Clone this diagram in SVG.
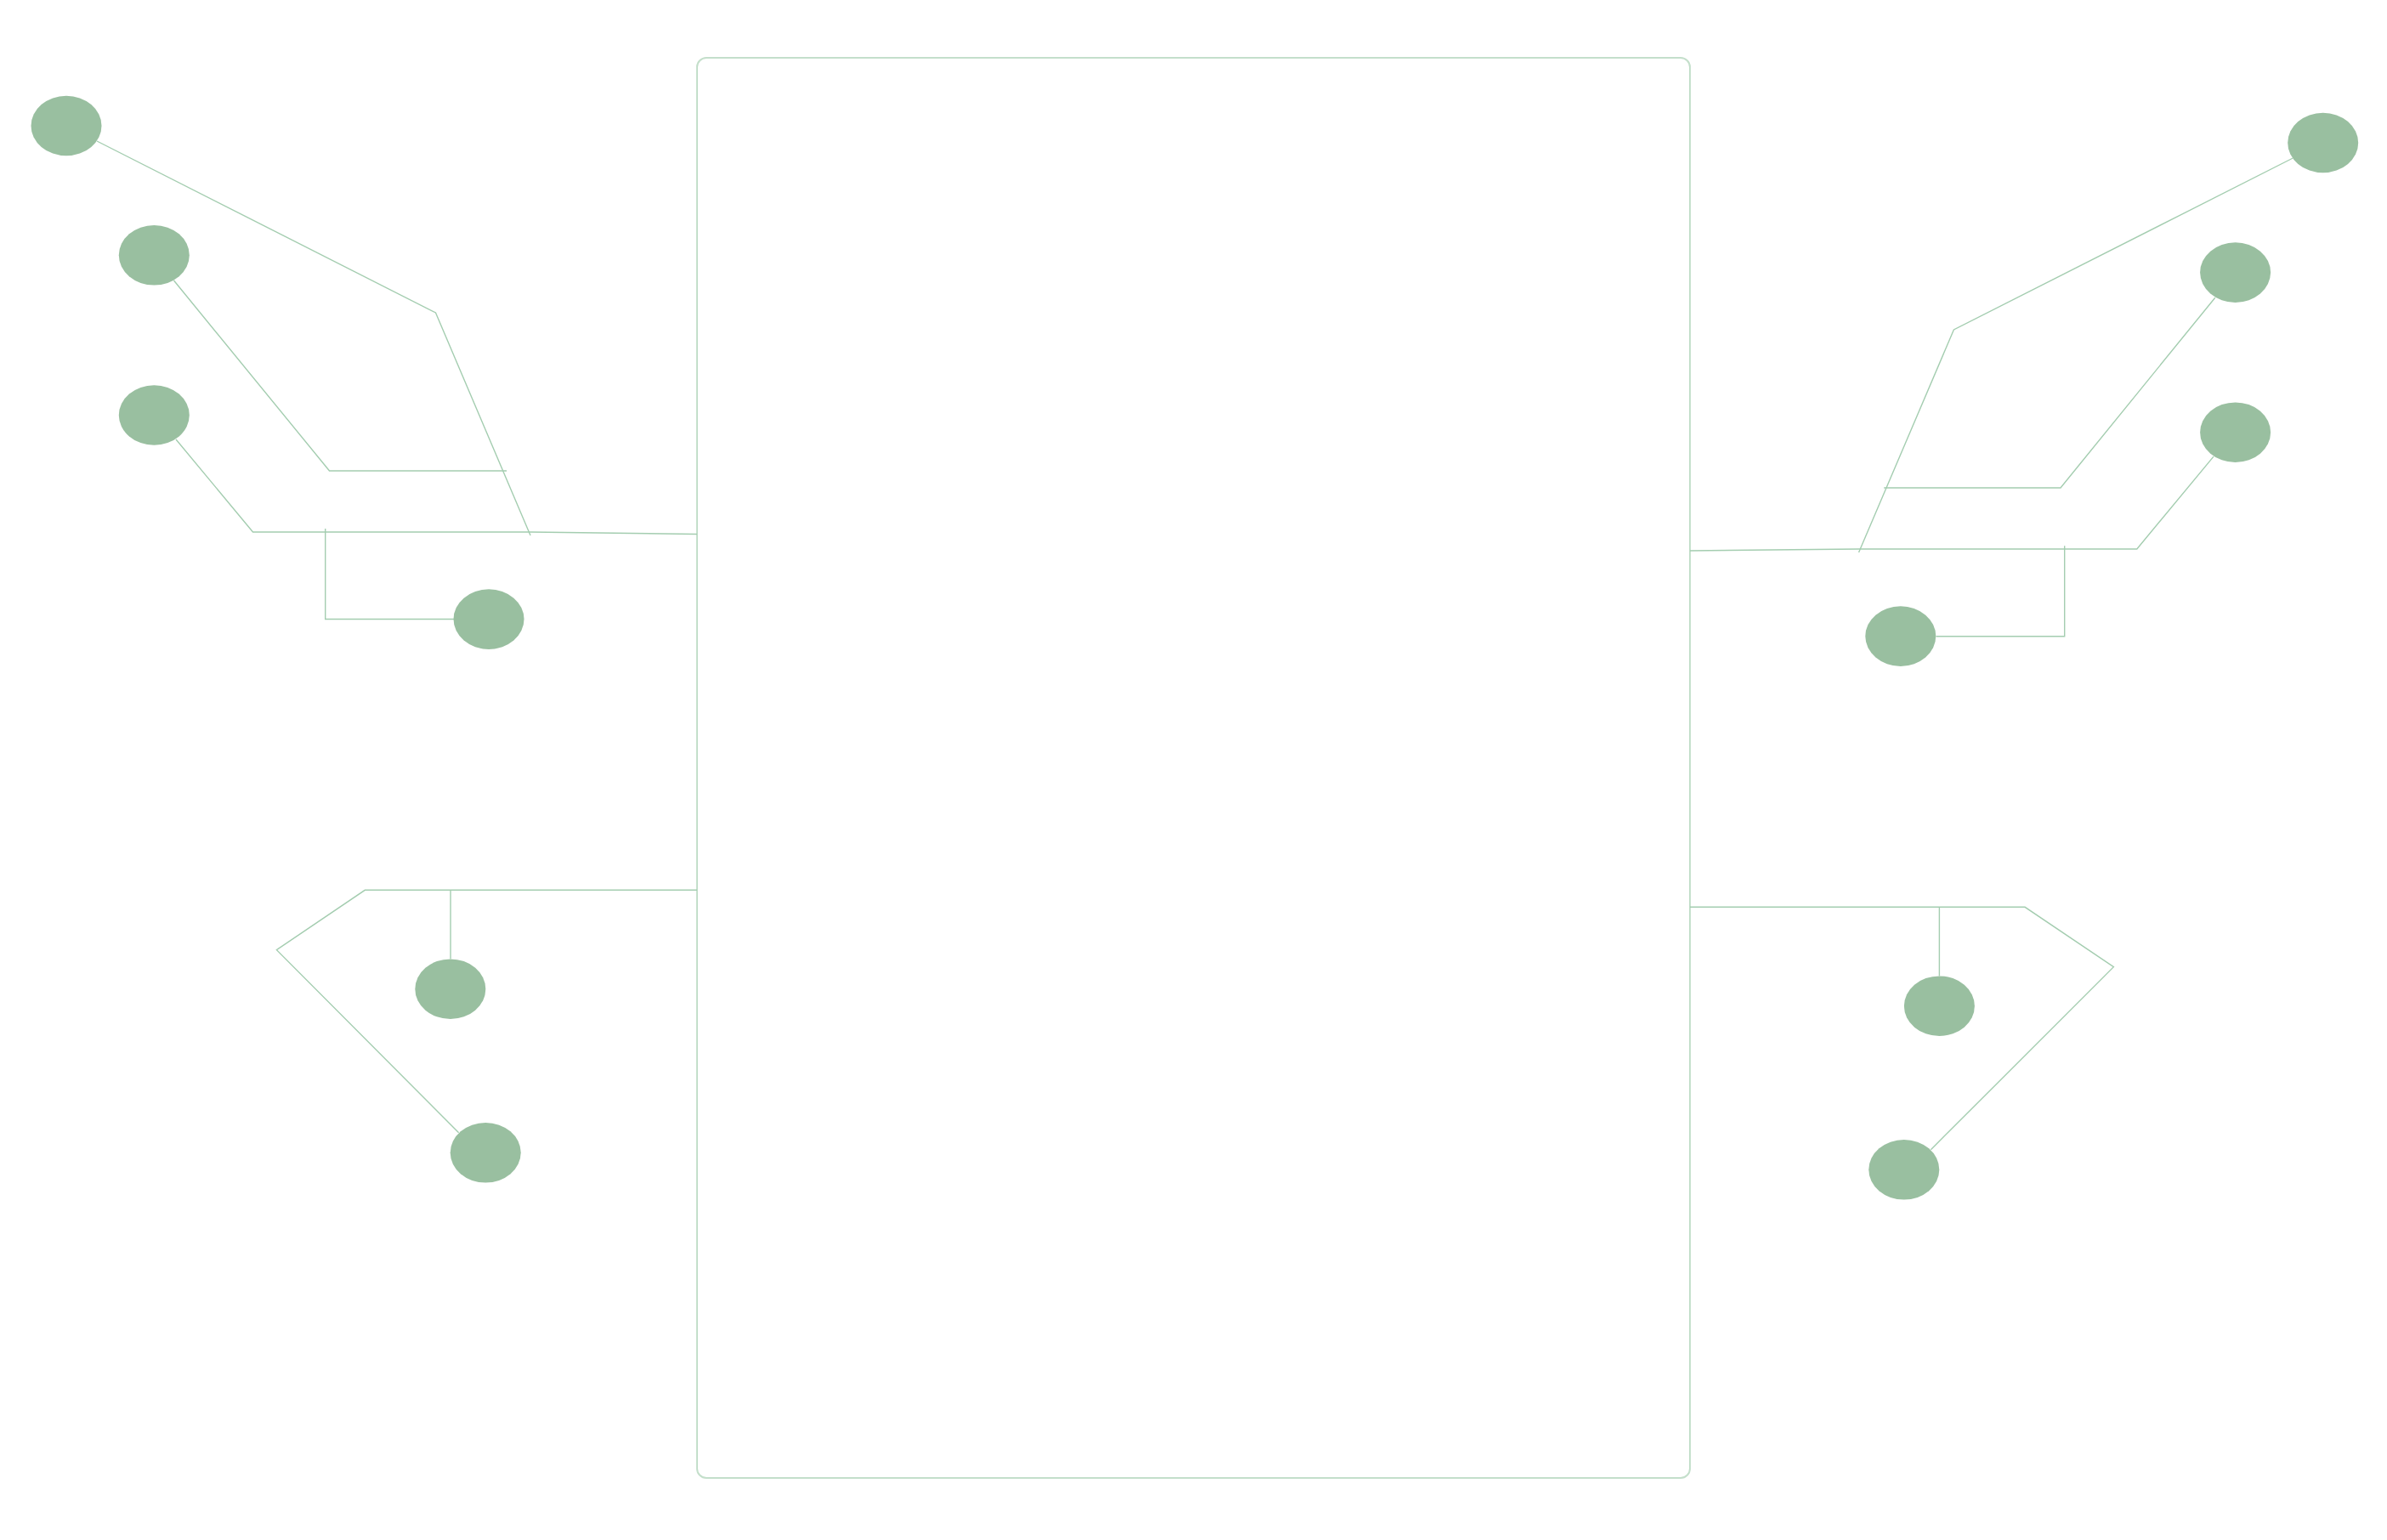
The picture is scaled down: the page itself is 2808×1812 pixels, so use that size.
<svg xmlns="http://www.w3.org/2000/svg" width="2808" height="1812" viewBox="0 0 2808 1812">
<style>
.node{fill:#99bfa0;stroke:none}
.frame{fill:#ffffff;stroke:#c4dfcb;stroke-width:2}
.conn{fill:none;stroke:#a4cdb0;stroke-width:1.4;stroke-linejoin:miter}
</style>
<rect width="2808" height="1812" fill="#ffffff"/>
<g id="frame">
<rect class="frame" x="820" y="68" width="1168" height="1671" rx="11" ry="11"/>
</g>
<g id="connectors">
<polyline class="conn" points="114,166 512.5,368 624,630"/>
<polyline class="conn" points="204.5,330 387.5,554 596,554"/>
<polyline class="conn" points="207,517 297.5,626 624,626 820,628.5"/>
<polyline class="conn" points="382.7,622 382.7,728.5 534,728.5"/>
<polyline class="conn" points="820,1047.3 429.3,1047.3 325.4,1117.7 539.6,1332.7"/>
<polyline class="conn" points="530,1047.3 530,1128.3"/>
<polyline class="conn" points="2697.3,186 2298.4,388 2186.6,650"/>
<polyline class="conn" points="2605.8,350.2 2424,574 2216.2,574"/>
<polyline class="conn" points="2604,537.1 2513.8,646 2186.6,646 1988,648"/>
<polyline class="conn" points="2428.7,642.2 2428.7,748.7 2277.5,748.7"/>
<polyline class="conn" points="1988,1067.3 2382.1,1067.3 2486.4,1137.7 2271.4,1352.7"/>
<polyline class="conn" points="2281.4,1067.3 2281.4,1148.3"/>
</g>
<g id="node-l1"><ellipse class="node" cx="78" cy="148" rx="41.5" ry="35.3"/></g>
<g id="node-l2"><ellipse class="node" cx="181.3" cy="300.3" rx="41.5" ry="35.3"/></g>
<g id="node-l3"><ellipse class="node" cx="181.3" cy="488.5" rx="41.5" ry="35.3"/></g>
<g id="node-l4"><ellipse class="node" cx="575" cy="728.6" rx="41.5" ry="35.3"/></g>
<g id="node-l5"><ellipse class="node" cx="529.8" cy="1163.7" rx="41.5" ry="35.3"/></g>
<g id="node-l6"><ellipse class="node" cx="571.2" cy="1356.3" rx="41.5" ry="35.3"/></g>
<g id="node-r1"><ellipse class="node" cx="2732.7" cy="168" rx="41.5" ry="35.3"/></g>
<g id="node-r2"><ellipse class="node" cx="2629.6" cy="320.6" rx="41.5" ry="35.3"/></g>
<g id="node-r3"><ellipse class="node" cx="2629.6" cy="508.7" rx="41.5" ry="35.3"/></g>
<g id="node-r4"><ellipse class="node" cx="2235.8" cy="748.6" rx="41.5" ry="35.3"/></g>
<g id="node-r5"><ellipse class="node" cx="2281.4" cy="1183.7" rx="41.5" ry="35.3"/></g>
<g id="node-r6"><ellipse class="node" cx="2239.8" cy="1376.3" rx="41.5" ry="35.3"/></g>
</svg>
